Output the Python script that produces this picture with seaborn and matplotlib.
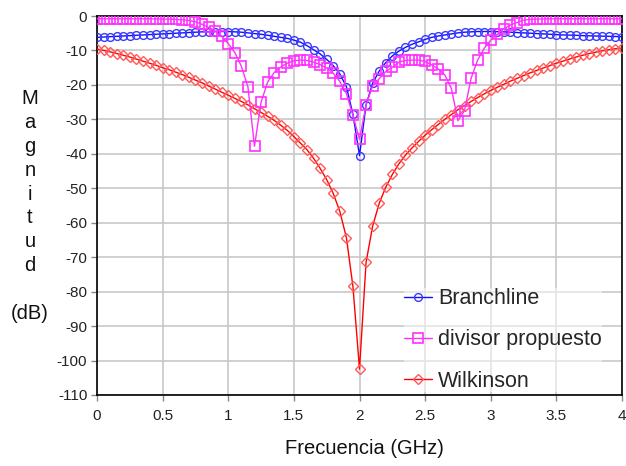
import numpy as np
import pandas as pd
import seaborn as sns
import matplotlib
matplotlib.use("Agg")
import matplotlib.pyplot as plt

# frequency sweep 0-4 GHz, 50 MHz steps
freq = np.linspace(0, 4, 81)

branchline = [
    -6.2, -6.1, -6.0, -5.9, -5.8, -5.7, -5.6, -5.5, -5.4, -5.3,
    -5.2, -5.1, -5.0, -4.9, -4.8, -4.7, -4.6, -4.55, -4.5, -4.5,
    -4.5, -4.6, -4.7, -4.9, -5.1, -5.3, -5.6, -5.9, -6.2, -6.5,
    -7.0, -7.6, -8.6, -9.8, -11.0, -12.6, -14.4, -16.8, -20.5, -28.5,
    -40.5, -25.8, -19.5, -16.0, -13.5, -11.6, -10.2, -9.1, -8.2, -7.5,
    -6.8, -6.2, -5.8, -5.5, -5.2, -4.9, -4.7, -4.6, -4.5, -4.5,
    -4.5, -4.55, -4.6, -4.7, -4.8, -4.9, -5.0, -5.1, -5.2, -5.3,
    -5.4, -5.5, -5.55, -5.6, -5.7, -5.75, -5.8, -5.85, -5.9, -5.95,
    -6.0,
]

propuesto = [
    -0.8, -0.8, -0.8, -0.8, -0.8, -0.8, -0.8, -0.8, -0.8, -0.85,
    -0.9, -0.9, -1.0, -1.1, -1.3, -1.7, -2.4, -3.3, -4.4, -5.9,
    -8.0, -10.6, -14.6, -20.6, -37.8, -25.0, -19.2, -16.4, -14.8, -13.7,
    -13.0, -12.8, -12.9, -13.4, -14.1, -15.1, -16.6, -19.0, -22.5, -28.8,
    -35.8, -25.8, -20.3, -18.2, -16.1, -14.9, -13.4, -12.9, -12.8, -12.8,
    -13.2, -14.2, -15.4, -17.1, -21.0, -30.4, -27.5, -18.1, -12.8, -9.4,
    -7.0, -5.3, -3.7, -2.6, -1.9, -1.2, -1.0, -0.9, -0.85, -0.8,
    -0.8, -0.8, -0.8, -0.8, -0.8, -0.8, -0.8, -0.8, -0.8, -0.8,
    -0.8,
]

wilkinson = [
    -9.6, -10.0, -10.4, -10.9, -11.4, -11.9, -12.5, -13.1, -13.7, -14.3,
    -15.0, -15.6, -16.3, -17.0, -17.8, -18.6, -19.4, -20.3, -21.2, -22.1,
    -23.0, -23.9, -24.8, -25.8, -26.9, -28.0, -29.1, -30.3, -31.7, -33.2,
    -35.0, -36.9, -38.8, -41.3, -44.2, -47.5, -51.5, -56.7, -64.3, -78.5,
    -102.5, -71.5, -61.0, -54.4, -49.7, -46.0, -42.9, -40.4, -38.3, -36.4,
    -34.6, -33.0, -31.5, -30.0, -28.6, -27.2, -26.0, -24.8, -23.7, -22.6,
    -21.6, -20.7, -19.8, -18.9, -18.1, -17.3, -16.5, -15.8, -15.1, -14.4,
    -13.7, -13.1, -12.5, -11.9, -11.4, -10.9, -10.5, -10.1, -9.8, -9.5,
    -9.3,
]

xticks = [0, 0.5, 1, 1.5, 2, 2.5, 3, 3.5, 4]
xticklabels = ["0", "0.5", "1", "1.5", "2", "2.5", "3", "3.5", "4"]
yticks = list(range(-110, 1, 10))

sns.set_theme(style="whitegrid")
plt.rcParams["font.family"] = ["Liberation Sans", "DejaVu Sans"]
plt.rcParams["axes.unicode_minus"] = False

df = pd.DataFrame({"freq": freq, "Branchline": branchline,
                   "divisor propuesto": propuesto, "Wilkinson": wilkinson})

fig = plt.figure(figsize=(6.26, 4.66), dpi=100)
ax = fig.add_axes([97 / 626, 1 - 395 / 466, (622 - 97) / 626, (395 - 16) / 466])

sns.lineplot(data=df, x="freq", y="Wilkinson", ax=ax, color="#ff0000", lw=1.0,
             marker="D", ms=5.0, mfc="none", mec="#ff5a5a", mew=1.0,
             label="Wilkinson", zorder=3)
sns.lineplot(data=df, x="freq", y="Branchline", ax=ax, color="#1010ff", lw=1.0,
             marker="o", ms=5.6, mfc="none", mec="#3a3aff", mew=1.0,
             label="Branchline", zorder=4)
sns.lineplot(data=df, x="freq", y="divisor propuesto", ax=ax, color="#ff30ff", lw=1.0,
             marker="s", ms=6.8, mfc="none", mec="#ff30ff", mew=1.2,
             label="divisor propuesto", zorder=5)

ax.set_xlim(0, 4)
ax.set_ylim(-110, 0)
ax.set_xticks(xticks)
ax.set_xticklabels(xticklabels)
ax.set_yticks(yticks)
ax.set_xlabel("")
ax.set_ylabel("")
ax.grid(True, color="#c8c8c8", lw=1.2)
for sp in ax.spines.values():
    sp.set_color("#000000")
    sp.set_linewidth(1.2)
ax.tick_params(axis="both", labelsize=11, colors="#222222", length=4,
               width=1, direction="out", bottom=True, left=True)
ax.tick_params(axis="x", pad=6)
ax.tick_params(axis="y", pad=3)
ax.tick_params(axis="both", color="#888888")

handles, labels = ax.get_legend_handles_labels()
order = [labels.index(n) for n in ["Branchline", "divisor propuesto", "Wilkinson"]]
leg = ax.legend([handles[i] for i in order], [labels[i] for i in order],
                loc="center left", bbox_to_anchor=(393 / 626, 1 - 340 / 466),
                bbox_transform=fig.transFigure, fontsize=15.5, frameon=True,
                framealpha=0.5, facecolor="white", edgecolor="none",
                borderpad=0.0, labelspacing=0.95, handlelength=1.3,
                handletextpad=0.3, markerscale=1.0)

fig.text(30 / 626, 1 - 206 / 466, "M\na\ng\nn\ni\nt\nu\nd\n\n(dB)",
         ha="center", va="center", multialignment="center",
         fontsize=14.5, linespacing=1.33, color="#111111")
fig.text(364 / 626, 1 - 448 / 466, "Frecuencia (GHz)", ha="center",
         va="center", fontsize=14.5, color="#111111")

fig.savefig("out.png", dpi=100)
